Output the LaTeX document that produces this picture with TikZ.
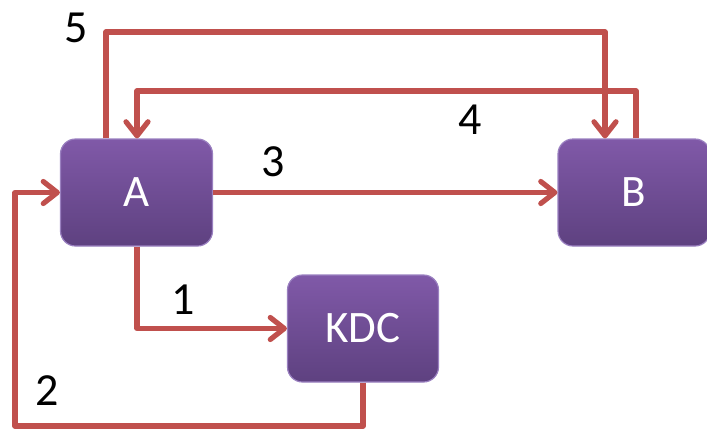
\documentclass[tikz,border=0pt]{standalone}
\usepackage{fontspec}
\setmainfont{Carlito}
\usetikzlibrary{arrows.meta,calc}
\definecolor{linered}{HTML}{C0504D}
\definecolor{boxtop}{HTML}{8059A8}
\definecolor{boxbot}{HTML}{5E4180}
\definecolor{boxedge}{HTML}{9A80C0}
\begin{document}
\begin{tikzpicture}[x=1pt,y=-1pt,
  box/.style={draw=boxedge, line width=1.2pt, rounded corners=15pt,
    top color=boxtop, bottom color=boxbot, text=white,
    minimum height=107pt, font=\fontsize{45}{48}\selectfont, inner sep=0pt},
  conn/.style={draw=linered, line width=5.2pt, line join=round,
    -{Straight Barb[length=14pt,width=22pt,line cap=round,line join=round]}},
  num/.style={font=\fontsize{46}{50}\selectfont, text=black, inner sep=0pt}]
\useasboundingbox (0,0) rectangle (707,429);
\node[box, minimum width=152pt] (A) at (136.5,192.5) {A};
\node[box, minimum width=152pt] (B) at (634,192.5) {B};
\node[box, minimum width=151pt] (KDC) at (363,328.5) {KDC};
\coordinate (x5) at (106,32);
\coordinate (x5b) at (605,32);
\coordinate (x4) at (636,91);
\coordinate (x4b) at (137,91);
\coordinate (c2) at (15,426);
% 5
\draw[conn] (A.north -| x5) -- (x5) -- (x5b) -- (B.north -| x5b);
% 4
\draw[conn] (B.north -| x4) -- (x4) -- (x4b) -- (A.north -| x4b);
% 3
\draw[conn] (A.east) -- (B.west);
% 1
\draw[conn] (A.south -| x4b) |- (KDC.west);
% 2
\draw[conn] (KDC.south) |- (c2) |- (A.west);
\node[num] (n5) at (76,28) {5};
\node[num] (n4) at (470,120) {4};
\node[num] (n3) at (273,162) {3};
\node[num] (n1) at (183,300) {1};
\node[num] (n2) at (47,391) {2};
\end{tikzpicture}
\end{document}
